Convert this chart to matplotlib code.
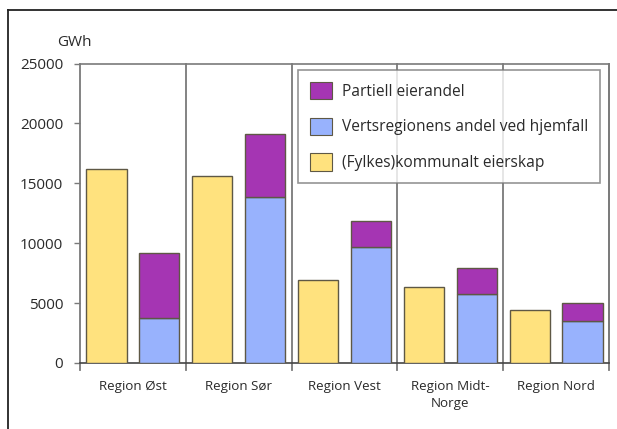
import matplotlib.pyplot as plt
from matplotlib.lines import Line2D
from matplotlib.patches import Patch

plt.rcParams['font.family'] = ['Open Sans', 'DejaVu Sans']

regions = ['Region Øst', 'Region Sør', 'Region Vest', 'Region Midt-\nNorge', 'Region Nord']
kommunalt = [16200, 15600, 6930, 6320, 4430]
vertsregion = [3730, 13860, 9690, 5790, 3480]
partiell = [5430, 5260, 2190, 2140, 1530]

series_labels = ['Partiell eierandel', 'Vertsregionens andel ved hjemfall',
                 '(Fylkes)kommunalt eierskap']
yellow = '#ffe27e'
blue = '#98b2fd'
purple = '#a535b3'
edge = '#5e5845'
grid_grey = '#7a7a7a'
text_col = '#2a2a2a'

W, H = 617, 429
fig = plt.figure(figsize=(W / 100, H / 100), dpi=100)
ax = fig.add_axes([80 / W, 1 - 363 / H, 529 / W, 299.5 / H])

bw = 0.38
x = range(len(regions))
left_x = [i + 0.25 for i in x]
right_x = [i + 0.75 for i in x]
ax.bar(left_x, kommunalt, width=bw, color=yellow, edgecolor=edge, linewidth=1.0, zorder=3)
ax.bar(right_x, vertsregion, width=bw, color=blue, edgecolor=edge, linewidth=1.0, zorder=3)
ax.bar(right_x, partiell, bottom=vertsregion, width=bw, color=purple,
       edgecolor=edge, linewidth=1.0, zorder=3)

ax.set_xlim(0, len(regions))
ax.set_ylim(0, 25000)
ax.set_yticks(range(0, 25001, 5000))
ax.tick_params(axis='y', direction='out', length=4, width=1, color=grid_grey,
               labelsize=11, pad=8, labelcolor=text_col)
ax.set_xticks([])

for side in ['top', 'right']:
    ax.spines[side].set_color(grid_grey)
    ax.spines[side].set_linewidth(1.2)
ax.spines['bottom'].set_color('#444444')
ax.spines['bottom'].set_linewidth(1.2)
ax.spines['left'].set_visible(False)

# group separators, running a little below the zero line
trans = ax.get_xaxis_transform()
for b in range(len(regions) + 1):
    ax.plot([b, b], [-0.022, 1], transform=trans, color=grid_grey, lw=1.3,
            clip_on=False, zorder=2)

for i, name in enumerate(regions):
    ax.text(i + 0.5, -0.058, name, transform=trans, ha='center', va='top',
            fontsize=9.6, color=text_col, linespacing=1.35)

fig.text(74 / W, 1 - 42 / H, 'GWh', ha='center', va='center', fontsize=11, color=text_col)

handles = [Patch(facecolor=c, edgecolor=edge, linewidth=0.8) for c in (purple, blue, yellow)]
leg = ax.legend(handles, series_labels, loc='upper left', bbox_to_anchor=(0.412, 0.978),
                fontsize=11.2, frameon=True, fancybox=False, edgecolor=grid_grey,
                handlelength=1.45, handleheight=1.35, labelspacing=1.15,
                handletextpad=0.65, borderpad=0.75, borderaxespad=0)
leg.get_frame().set_linewidth(1.2)
for t in leg.get_texts():
    t.set_color(text_col)

# frame lines along the top and left edge of the figure
fig.add_artist(Line2D([8 / W, 1], [1 - 10 / H, 1 - 10 / H], color='#222222', lw=1.3))
fig.add_artist(Line2D([8 / W, 8 / W], [0, 1 - 10 / H], color='#222222', lw=1.3))

fig.savefig('out.png', dpi=100)
